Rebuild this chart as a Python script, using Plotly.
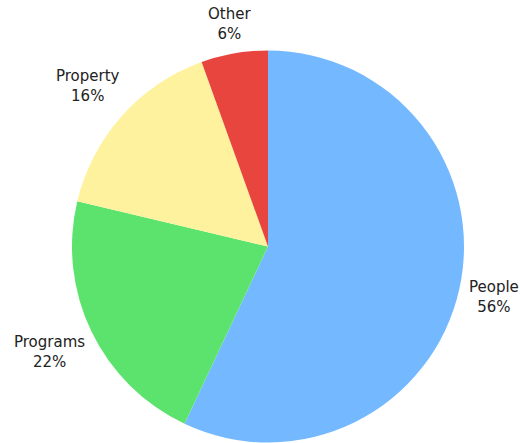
import math

import plotly.graph_objects as go

labels = ["People", "Programs", "Property", "Other"]
# slice sizes as drawn in the picture, and the percentages printed next to them
values = [57.0, 21.7, 15.8, 5.5]
pct_labels = ["56%", "22%", "16%", "6%"]
colors = ["#74B9FF", "#5CE36E", "#FFF29E", "#E8453F"]

W, H = 520, 443
cx, cy, r = 268, 246.5, 196
FONT_SIZE = 15

fig = go.Figure(
    go.Pie(
        labels=labels,
        values=values,
        sort=False,
        direction="clockwise",
        rotation=0,
        marker=dict(colors=colors, line=dict(width=0)),
        textinfo="none",
        hoverinfo="label+percent",
        domain=dict(
            x=[(cx - r) / W, (cx + r) / W],
            y=[1 - (cy + r) / H, 1 - (cy - r) / H],
        ),
    )
)

# outside labels, placed along each slice's mid angle
total = sum(values)
start = 0
for label, value, pct in zip(labels, values, pct_labels):
    mid = 2 * math.pi * (start + value / 2) / total
    start += value
    vx, vy = math.sin(mid), -math.cos(mid)
    w = 0.58 * FONT_SIZE * max(len(label), len(pct))
    h = 40
    d = r + 6 + abs(vx) * w / 2 + abs(vy) * h / 2
    fig.add_annotation(
        x=(cx + d * vx) / W,
        y=1 - (cy + d * vy) / H,
        xref="paper",
        yref="paper",
        text=f"{label}<br>{pct}",
        showarrow=False,
        xanchor="center",
        yanchor="middle",
        align="center",
        font=dict(family="DejaVu Sans", size=FONT_SIZE, color="#222222"),
    )

fig.update_layout(
    width=W,
    height=H,
    showlegend=False,
    margin=dict(l=0, r=0, t=0, b=0),
    paper_bgcolor="white",
    plot_bgcolor="rgba(0,0,0,0)",
)

fig.write_html(
    "out.html",
    config={"displayModeBar": False},
    post_script="document.body.style.margin='0';",
)
